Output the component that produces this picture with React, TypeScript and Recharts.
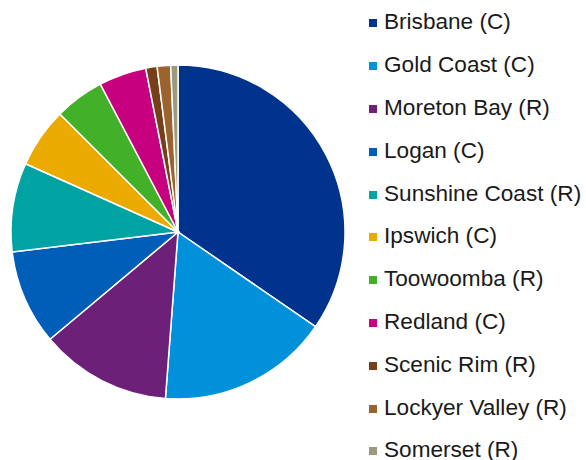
import { PieChart, Pie, Cell, Legend } from 'recharts';

const regions = [
    'Brisbane (C)',
    'Gold Coast (C)',
    'Moreton Bay (R)',
    'Logan (C)',
    'Sunshine Coast (R)',
    'Ipswich (C)',
    'Toowoomba (R)',
    'Redland (C)',
    'Scenic Rim (R)',
    'Lockyer Valley (R)',
    'Somerset (R)',
];

const shares = [34.6, 16.6, 12.7, 9.2, 8.6, 5.8, 4.8, 4.6, 1.1, 1.3, 0.7];

const colors = [
    '#00338D',
    '#0091DA',
    '#6D2077',
    '#005EB8',
    '#00A3A1',
    '#EAAA00',
    '#43B02A',
    '#C6007E',
    '#753F19',
    '#9B642E',
    '#9C9A7D',
];

const data = regions.map((name, i) => ({ name, value: shares[i] }));

// keep the legend in data order (recharts sorts its payload by name)
function LegendList() {
    return (
        <div style={{ paddingTop: 1 }}>
            {regions.map((name, i) => (
                <div
                    key={name}
                    style={{
                        height: 42.8,
                        display: 'flex',
                        alignItems: 'center',
                        fontFamily: '"Liberation Sans", Arial, sans-serif',
                        fontSize: 22.6,
                        color: '#1a1a1a',
                        whiteSpace: 'nowrap',
                    }}
                >
                    <span
                        style={{
                            display: 'inline-block',
                            width: 8,
                            height: 8,
                            background: colors[i],
                            marginRight: 7,
                            marginTop: 2,
                        }}
                    />
                    {name}
                </div>
            ))}
        </div>
    );
}

export default function App() {
    return (
        <div style={{ position: 'fixed', left: 0, top: 0, width: 586, height: 460, background: '#fff', overflow: 'hidden' }}>
            <PieChart width={586} height={460} margin={{ top: 0, right: 0, bottom: 0, left: 0 }}>
                <Pie
                    data={data}
                    dataKey="value"
                    nameKey="name"
                    cx={178}
                    cy={232}
                    outerRadius={167}
                    startAngle={90}
                    endAngle={-270}
                    stroke="#ffffff"
                    strokeWidth={1.5}
                    isAnimationActive={false}
                >
                    {data.map((d, i) => (
                        <Cell key={d.name} fill={colors[i]} />
                    ))}
                </Pie>
                <Legend
                    layout="vertical"
                    align="right"
                    verticalAlign="top"
                    content={<LegendList />}
                    wrapperStyle={{ left: 369, top: 0, width: 217 }}
                />
            </PieChart>
        </div>
    );
}
